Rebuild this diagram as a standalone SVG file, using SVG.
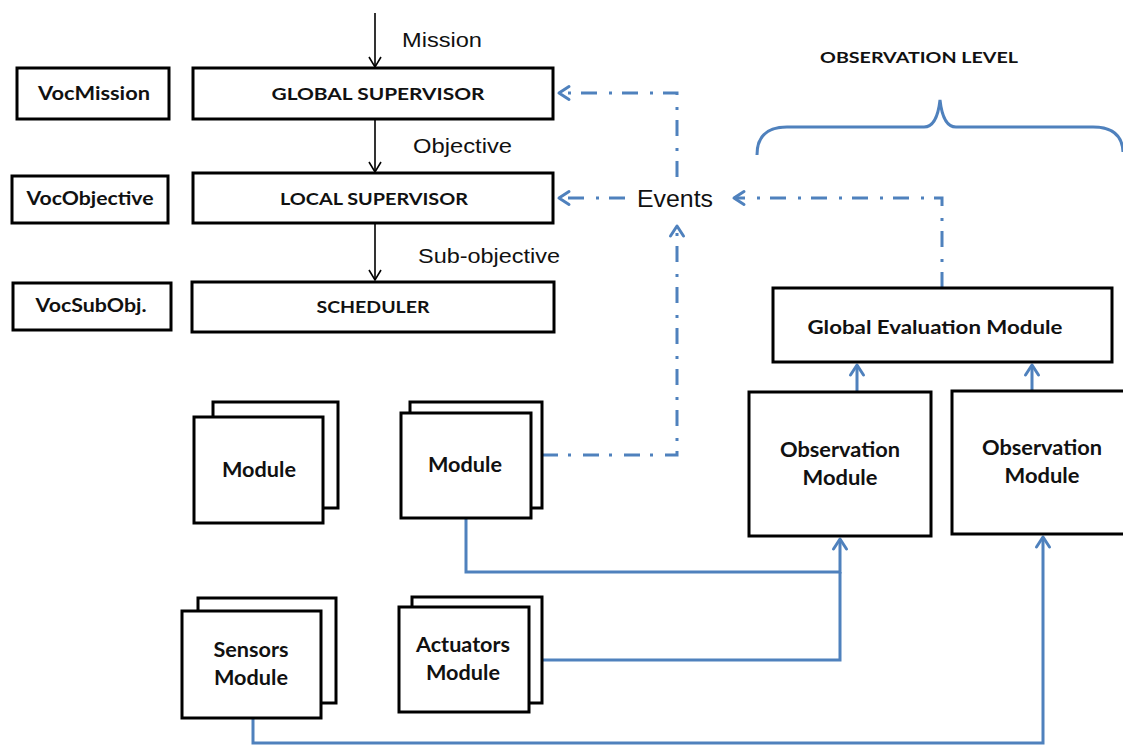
<svg xmlns="http://www.w3.org/2000/svg" width="1123" height="745" viewBox="0 0 1123 745">
<style>
.box{fill:#fff;stroke:#000;stroke-width:3}
.lbl{font-family:Lato,"Liberation Sans",sans-serif;font-weight:bold;fill:#111;text-anchor:middle}
.txt{font-family:"Liberation Sans",Arial,sans-serif;fill:#111}
.blk{fill:none;stroke:#000;stroke-width:1.6}
.sol{fill:none;stroke:#4f81bd;stroke-width:3}
.dd{fill:none;stroke:#4f81bd;stroke-width:3;stroke-dasharray:16 10 3 12}
</style>
<defs>
<marker id="ab" markerUnits="userSpaceOnUse" viewBox="0 0 12 14" refX="11" refY="7" markerWidth="12" markerHeight="14" orient="auto" overflow="visible">
<path d="M1,1 L11,7 L1,13" fill="none" stroke="#000" stroke-width="1.6"/>
</marker>
<marker id="au" markerUnits="userSpaceOnUse" viewBox="0 0 14 16" refX="12" refY="8" markerWidth="14" markerHeight="16" orient="auto" overflow="visible">
<path d="M2,1.5 L12,8 L2,14.5" fill="none" stroke="#4f81bd" stroke-width="3" stroke-linecap="round" stroke-linejoin="round"/>
</marker>
</defs>
<rect width="1123" height="745" fill="#fff"/>

<g id="connectors">
<path class="blk" d="M375,13 L375,67" marker-end="url(#ab)"/>
<path class="blk" d="M375,119 L375,172" marker-end="url(#ab)"/>
<path class="blk" d="M375,222 L375,280" marker-end="url(#ab)"/>
<path class="dd" d="M677,177 L677,93 L559,93" marker-end="url(#au)"/>
<path class="dd" d="M625,198 L559,198" marker-end="url(#au)"/>
<path class="dd" d="M942,288 L942,198 L734,198" marker-end="url(#au)"/>
<path class="dd" d="M542,455 L677,455 L677,226" marker-end="url(#au)"/>
<path class="sol" d="M466,518 L466,572 L840,572 L840,539" marker-end="url(#au)"/>
<path class="sol" d="M529,660 L840,660 L840,572"/>
<path class="sol" d="M253,718 L253,743 L1043,743 L1043,537" marker-end="url(#au)"/>
<path class="sol" d="M857,392 L857,365" marker-end="url(#au)"/>
<path class="sol" d="M1032,391 L1032,365" marker-end="url(#au)"/>
<path d="M757,155 Q757,127 787,127 L924,127 Q937,127 940,100 Q943,127 956,127 L1093,127 Q1122,127 1123,152" fill="none" stroke="#4f81bd" stroke-width="3"/>
</g>

<g id="labels">
<text class="txt" x="402" y="47" font-size="20" textLength="80" lengthAdjust="spacingAndGlyphs">Mission</text>
<text class="txt" x="413" y="153" font-size="20" textLength="99" lengthAdjust="spacingAndGlyphs">Objective</text>
<text class="txt" x="418" y="263" font-size="20" textLength="142" lengthAdjust="spacingAndGlyphs">Sub-objective</text>
</g>

<g id="events"><text class="txt" x="637" y="207" font-size="24" textLength="76" lengthAdjust="spacingAndGlyphs">Events</text></g>

<g id="observation-level"><text class="lbl" x="919" y="63" font-size="16" textLength="198" lengthAdjust="spacingAndGlyphs">OBSERVATION LEVEL</text></g>

<g id="voc-mission"><rect class="box" x="17" y="68" width="152" height="51"/><text class="lbl" x="94" y="100" font-size="19" textLength="112" lengthAdjust="spacingAndGlyphs">VocMission</text></g>
<g id="global-supervisor"><rect class="box" x="193" y="68" width="360" height="51"/><text class="lbl" x="378" y="100" font-size="17" textLength="213" lengthAdjust="spacingAndGlyphs">GLOBAL SUPERVISOR</text></g>
<g id="voc-objective"><rect class="box" x="12" y="176" width="156" height="47"/><text class="lbl" x="90" y="205" font-size="19" textLength="127" lengthAdjust="spacingAndGlyphs">VocObjective</text></g>
<g id="local-supervisor"><rect class="box" x="193" y="173" width="360" height="50"/><text class="lbl" x="374" y="205" font-size="17" textLength="188" lengthAdjust="spacingAndGlyphs">LOCAL SUPERVISOR</text></g>
<g id="voc-subobj"><rect class="box" x="13" y="283" width="158" height="47"/><text class="lbl" x="91" y="312" font-size="19" textLength="111" lengthAdjust="spacingAndGlyphs">VocSubObj.</text></g>
<g id="scheduler"><rect class="box" x="192" y="282" width="362" height="50"/><text class="lbl" x="373" y="313" font-size="17" textLength="113" lengthAdjust="spacingAndGlyphs">SCHEDULER</text></g>

<g id="global-evaluation-module"><rect class="box" x="773" y="288" width="339" height="74"/><text class="lbl" x="935" y="334" font-size="18" textLength="255" lengthAdjust="spacingAndGlyphs">Global Evaluation Module</text></g>
<g id="observation-module-1"><rect class="box" x="749" y="392" width="182" height="144"/><text class="lbl" x="840" y="457" font-size="20" textLength="120" lengthAdjust="spacingAndGlyphs">Observation</text><text class="lbl" x="840" y="485" font-size="20" textLength="75" lengthAdjust="spacingAndGlyphs">Module</text></g>
<g id="observation-module-2"><rect class="box" x="952" y="391" width="182" height="143"/><text class="lbl" x="1042" y="455" font-size="20" textLength="120" lengthAdjust="spacingAndGlyphs">Observation</text><text class="lbl" x="1042" y="483" font-size="20" textLength="75" lengthAdjust="spacingAndGlyphs">Module</text></g>

<g id="module-1"><rect class="box" x="213" y="402" width="125" height="106"/><rect class="box" x="194" y="417" width="129" height="106"/><text class="lbl" x="259" y="477" font-size="20" textLength="74" lengthAdjust="spacingAndGlyphs">Module</text></g>
<g id="module-2"><rect class="box" x="410" y="402" width="132" height="106"/><rect class="box" x="401" y="413" width="130" height="105"/><text class="lbl" x="465" y="472" font-size="20" textLength="74" lengthAdjust="spacingAndGlyphs">Module</text></g>
<g id="sensors-module"><rect class="box" x="198" y="598" width="138" height="105"/><rect class="box" x="182" y="611" width="139" height="107"/><text class="lbl" x="251" y="657" font-size="20" textLength="75" lengthAdjust="spacingAndGlyphs">Sensors</text><text class="lbl" x="251" y="685" font-size="20" textLength="74" lengthAdjust="spacingAndGlyphs">Module</text></g>
<g id="actuators-module"><rect class="box" x="412" y="597" width="130" height="106"/><rect class="box" x="399" y="607" width="130" height="105"/><text class="lbl" x="463" y="652" font-size="20" textLength="94" lengthAdjust="spacingAndGlyphs">Actuators</text><text class="lbl" x="463" y="680" font-size="20" textLength="74" lengthAdjust="spacingAndGlyphs">Module</text></g>
</svg>
